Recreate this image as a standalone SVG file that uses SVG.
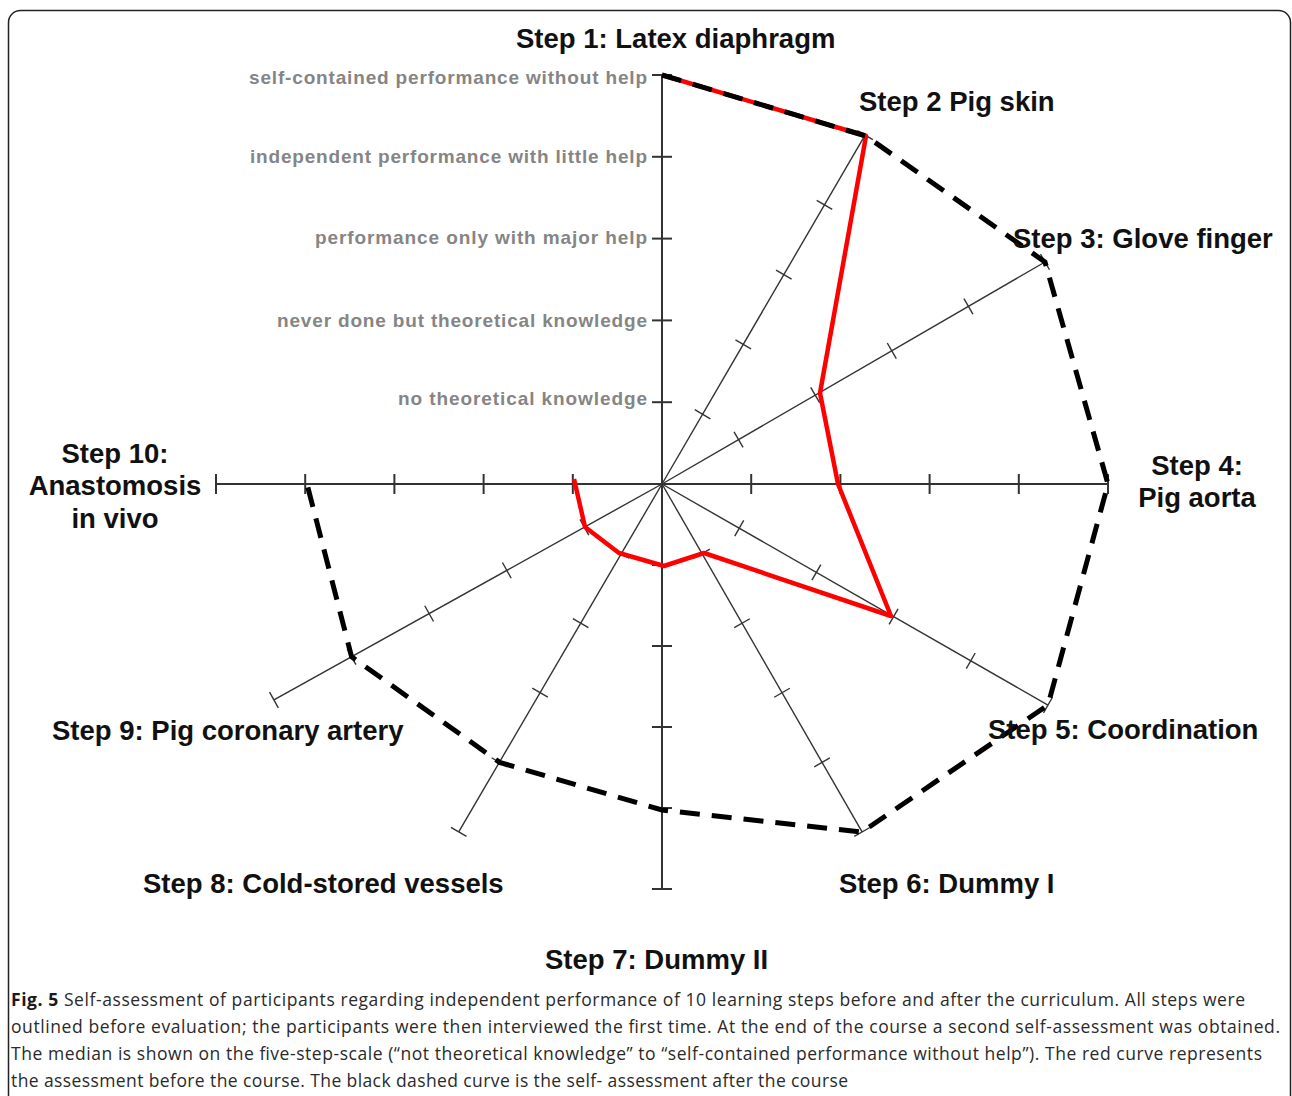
<svg xmlns="http://www.w3.org/2000/svg" width="1292" height="1096" viewBox="0 0 1292 1096">
<style>
.frame{fill:#fff;stroke:#222;stroke-width:1.5}
.ax{stroke:#333;stroke-width:1.4;fill:none}
.axm{stroke:#333;stroke-width:2;fill:none}
.tk{stroke:#333;stroke-width:1.4}
.tkm{stroke:#333;stroke-width:2}
.red{fill:none;stroke:#ff0000;stroke-width:4.5;stroke-linejoin:round}
.dash{fill:none;stroke:#000;stroke-width:5;stroke-dasharray:20 12}
.lvl{font-family:"Liberation Sans",Arial,sans-serif;font-weight:bold;font-size:19px;fill:#858585;text-anchor:end}
.step{font-family:"Liberation Sans",Arial,sans-serif;font-weight:bold;font-size:27.5px;fill:#111}
.mid{text-anchor:middle}
.cap{font-family:"Open Sans","Noto Sans",sans-serif;font-size:17.5px;fill:#2a2a2a}
.capb{font-weight:bold;fill:#1a1a1a}
</style>
<rect class="frame" x="8.5" y="10.5" width="1282" height="1100" rx="12"/>
<g id="axes">
<g id="axis1" transform="translate(662,484) rotate(-90)"><line class="axm" x1="0" y1="0" x2="409" y2="0"/><g class="tkm"><line x1="81.8" y1="-10" x2="81.8" y2="10"/><line x1="163.6" y1="-10" x2="163.6" y2="10"/><line x1="245.4" y1="-10" x2="245.4" y2="10"/><line x1="327.2" y1="-10" x2="327.2" y2="10"/><line x1="409" y1="-10" x2="409" y2="10"/></g></g>
<g id="axis2" transform="translate(662,484) rotate(-59.8)"><line class="ax" x1="0" y1="0" x2="403.7" y2="0"/><g class="tk"><line x1="80.7" y1="-9" x2="80.7" y2="9"/><line x1="161.5" y1="-9" x2="161.5" y2="9"/><line x1="242.2" y1="-9" x2="242.2" y2="9"/><line x1="323" y1="-9" x2="323" y2="9"/><line x1="403.7" y1="-9" x2="403.7" y2="9"/></g></g>
<g id="axis3" transform="translate(662,484) rotate(-30.1)"><line class="ax" x1="0" y1="0" x2="442.7" y2="0"/><g class="tk"><line x1="88.5" y1="-9" x2="88.5" y2="9"/><line x1="177.1" y1="-9" x2="177.1" y2="9"/><line x1="265.6" y1="-9" x2="265.6" y2="9"/><line x1="354.2" y1="-9" x2="354.2" y2="9"/><line x1="442.7" y1="-9" x2="442.7" y2="9"/></g></g>
<g id="axis4" transform="translate(662,484)"><line class="axm" x1="0" y1="0" x2="446" y2="0"/><g class="tkm"><line x1="89.2" y1="-10" x2="89.2" y2="10"/><line x1="178.4" y1="-10" x2="178.4" y2="10"/><line x1="267.6" y1="-10" x2="267.6" y2="10"/><line x1="356.8" y1="-10" x2="356.8" y2="10"/><line x1="446" y1="-10" x2="446" y2="10"/></g></g>
<g id="axis5" transform="translate(662,484) rotate(29.8)"><line class="ax" x1="0" y1="0" x2="444.8" y2="0"/><g class="tk"><line x1="89" y1="-9" x2="89" y2="9"/><line x1="177.9" y1="-9" x2="177.9" y2="9"/><line x1="266.9" y1="-9" x2="266.9" y2="9"/><line x1="355.8" y1="-9" x2="355.8" y2="9"/><line x1="444.8" y1="-9" x2="444.8" y2="9"/></g></g>
<g id="axis6" transform="translate(662,484) rotate(60.1)"><line class="ax" x1="0" y1="0" x2="401.4" y2="0"/><g class="tk"><line x1="80.3" y1="-9" x2="80.3" y2="9"/><line x1="160.6" y1="-9" x2="160.6" y2="9"/><line x1="240.8" y1="-9" x2="240.8" y2="9"/><line x1="321.1" y1="-9" x2="321.1" y2="9"/><line x1="401.4" y1="-9" x2="401.4" y2="9"/></g></g>
<g id="axis7" transform="translate(662,484) rotate(90)"><line class="axm" x1="0" y1="0" x2="405" y2="0"/><g class="tkm"><line x1="81" y1="-10" x2="81" y2="10"/><line x1="162" y1="-10" x2="162" y2="10"/><line x1="243" y1="-10" x2="243" y2="10"/><line x1="324" y1="-10" x2="324" y2="10"/><line x1="405" y1="-10" x2="405" y2="10"/></g></g>
<g id="axis8" transform="translate(662,484) rotate(120.3)"><line class="ax" x1="0" y1="0" x2="402.9" y2="0"/><g class="tk"><line x1="80.6" y1="-9" x2="80.6" y2="9"/><line x1="161.2" y1="-9" x2="161.2" y2="9"/><line x1="241.7" y1="-9" x2="241.7" y2="9"/><line x1="322.3" y1="-9" x2="322.3" y2="9"/><line x1="402.9" y1="-9" x2="402.9" y2="9"/></g></g>
<g id="axis9" transform="translate(662,484) rotate(150.9)"><line class="ax" x1="0" y1="0" x2="444.1" y2="0"/><g class="tk"><line x1="88.8" y1="-9" x2="88.8" y2="9"/><line x1="177.6" y1="-9" x2="177.6" y2="9"/><line x1="266.5" y1="-9" x2="266.5" y2="9"/><line x1="355.3" y1="-9" x2="355.3" y2="9"/><line x1="444.1" y1="-9" x2="444.1" y2="9"/></g></g>
<g id="axis10" transform="translate(662,484) rotate(180)"><line class="axm" x1="0" y1="0" x2="446" y2="0"/><g class="tkm"><line x1="89.2" y1="-10" x2="89.2" y2="10"/><line x1="178.4" y1="-10" x2="178.4" y2="10"/><line x1="267.6" y1="-10" x2="267.6" y2="10"/><line x1="356.8" y1="-10" x2="356.8" y2="10"/><line x1="446" y1="-10" x2="446" y2="10"/></g></g>
</g>
<g id="connectors">
<polyline id="before" class="red" points="662,75 866,136 820,393 838,484 891,616 704,553 664,566 619,553 585,527 574,479"/>
<polyline id="after" class="dash" points="662,75 866,136 1045,262 1108,484 1048,705 862,832 662,810 499.6,762.4 351.6,656.8 307,484"/>
</g>
<g id="scale-labels">
<text class="lvl" x="647" y="84" textLength="398">self-contained performance without help</text>
<text class="lvl" x="647" y="163" textLength="397">independent performance with little help</text>
<text class="lvl" x="647" y="244" textLength="332">performance only with major help</text>
<text class="lvl" x="647" y="327" textLength="370">never done but theoretical knowledge</text>
<text class="lvl" x="647" y="405" textLength="249">no theoretical knowledge</text>
</g>
<g id="step1"><text class="step" x="516" y="48">Step 1: Latex diaphragm</text></g>
<g id="step2"><text class="step" x="859" y="111">Step 2 Pig skin</text></g>
<g id="step3"><text class="step" x="1013" y="248">Step 3: Glove finger</text></g>
<g id="step4"><text class="step mid" x="1197" y="475">Step 4:</text><text class="step mid" x="1197" y="507">Pig aorta</text></g>
<g id="step5"><text class="step" x="988" y="739">Step 5: Coordination</text></g>
<g id="step6"><text class="step" x="839" y="893">Step 6: Dummy I</text></g>
<g id="step7"><text class="step" x="545" y="969">Step 7: Dummy II</text></g>
<g id="step8"><text class="step" x="143" y="893">Step 8: Cold-stored vessels</text></g>
<g id="step9"><text class="step" x="52" y="740">Step 9: Pig coronary artery</text></g>
<g id="step10"><text class="step mid" x="115" y="463">Step 10:</text><text class="step mid" x="115" y="495">Anastomosis</text><text class="step mid" x="115" y="528">in vivo</text></g>
<g id="caption">
<text class="cap" x="11" y="1006" textLength="1234"><tspan class="capb">Fig. 5</tspan> Self-assessment of participants regarding independent performance of 10 learning steps before and after the curriculum. All steps were</text>
<text class="cap" x="11" y="1033" textLength="1269">outlined before evaluation; the participants were then interviewed the first time. At the end of the course a second self-assessment was obtained.</text>
<text class="cap" x="11" y="1060" textLength="1251">The median is shown on the five-step-scale (“not theoretical knowledge” to “self-contained performance without help”). The red curve represents</text>
<text class="cap" x="11" y="1087" textLength="837">the assessment before the course. The black dashed curve is the self- assessment after the course</text>
</g>
</svg>
